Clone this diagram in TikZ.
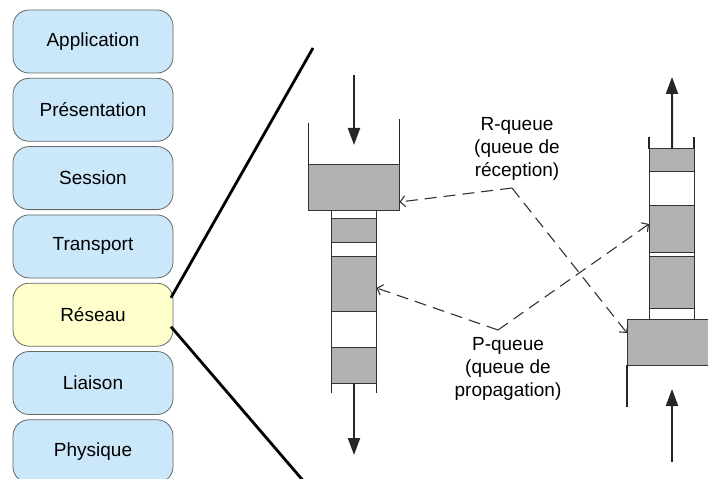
\documentclass[tikz,border=0pt]{standalone}
\usepackage{fontspec}
\setmainfont{Liberation Sans}
\usetikzlibrary{arrows.meta}
\usetikzlibrary{positioning}
\definecolor{layerblue}{RGB}{202,232,250}
\definecolor{layeryellow}{RGB}{255,255,204}
\definecolor{qgray}{RGB}{178,178,178}

\begin{document}
\begin{tikzpicture}[x=1bp,y=-1bp,node distance=5.3bp,
    font=\fontsize{19bp}{23bp}\selectfont]
 				 \tikzstyle{layer}=[draw=black!60, fill=layerblue, rounded corners=16bp, line width=0.8bp,
 				   minimum width=160bp, minimum height=63bp, inner sep=0pt, outer sep=0pt]
 				 \tikzstyle{slot}=[draw=black!80, fill=qgray, line width=1bp, minimum width=45bp,
 				   inner sep=0pt, outer sep=0pt]
 				 \tikzstyle{wall}=[draw=black!85, line width=1.6bp]
 				 \tikzstyle{flow}=[draw=black!85, line width=2bp, -{Triangle[length=17bp,width=12bp]}]
 				 \tikzstyle{hint}=[draw=black!80, line width=1.1bp, dash pattern=on 12bp off 7bp,
 				   -{Straight Barb[length=5bp,width=11bp]}]
 				 \tikzstyle{zline}=[draw=black, line width=2.8bp]
			\useasboundingbox (0,0) rectangle (708,479);
			\clip (0,0) rectangle (708,479);

			% OSI layers
			\node[layer] (app) at (93,41.5) {Application};
			\node[layer] (pres) [below=of app] {Présentation};
			\node[layer] (sess) [below=of pres] {Session};
			\node[layer] (trans) [below=of sess] {Transport};
			\node[layer, fill=layeryellow] (res) [below=of trans] {Réseau};
			\node[layer] (liai) [below=of res] {Liaison};
			\node[layer] (phys) [below=of liai] {Physique};

			% zoom lines
			\coordinate (zt) at (313,48);
			\coordinate (zb) at (306,484);
			\draw[zline] ([xshift=-2bp,yshift=17bp]res.east) -- (zt);
			\draw[zline] ([xshift=-2bp,yshift=-12bp]res.east) -- (zb);

			% reception side
			\node[slot, minimum width=91bp, minimum height=46bp] (ltop) at (354,188) {};
			\node[slot, fill=white, minimum height=8bp] (l1) [below=0pt of ltop] {};
			\node[slot, minimum height=23bp] (l2) [below=0pt of l1] {};
			\node[slot, fill=white, minimum height=14bp] (l3) [below=0pt of l2] {};
			\node[slot, minimum height=55bp] (l4) [below=0pt of l3] {};
			\node[slot, fill=white, minimum height=36bp] (l5) [below=0pt of l4] {};
			\node[slot, minimum height=36bp] (l6) [below=0pt of l5] {};
			\draw[wall] ([yshift=42bp]ltop.north west) -- (ltop.north west);
			\draw[wall] ([yshift=46bp]ltop.north east) -- (ltop.north east);
			\draw[wall] (l6.south west) -- ++(0,10);
			\draw[wall] (l6.south east) -- ++(0,10);
			\coordinate (inL) at (354,75);
			\coordinate (inLend) at (354,145);
			\coordinate (outL) at (354,455);
			\draw[flow] (inL) -- (inLend);
			\draw[flow] (l6.south) -- (outL);

			% propagation side
			\node[slot, minimum height=23bp] (r1) at (671.5,160.5) {};
			\node[slot, fill=white, minimum height=34bp] (r2) [below=0pt of r1] {};
			\node[slot, minimum height=46bp] (r3) [below=0pt of r2] {};
			\node[slot, fill=white, minimum height=4bp] (r4) [below=0pt of r3] {};
			\node[slot, minimum height=52bp] (r5) [below=0pt of r4] {};
			\node[slot, fill=white, minimum height=11bp] (r6) [below=0pt of r5] {};
			\node[slot, minimum width=91bp, minimum height=46bp, anchor=north west] (rbot)
			  at ([xshift=-22bp]r6.south west) {};
			\draw[wall] ([yshift=12bp]r1.north west) -- (r1.north west);
			\draw[wall] ([yshift=12bp]r1.north east) -- (r1.north east);
			\draw[wall] (rbot.south west) -- ++(0,42);
			\coordinate (outR) at (672,77);
			\coordinate (inR) at (672,462);
			\coordinate (inRend) at (672,389);
			\draw[flow] ([xshift=0.5bp]r1.north) -- (outR);
			\draw[flow] (inR) -- (inRend);

			% labels
			\node[align=center] (rq) at (517,149) {R-queue\\(queue de\\réception)};
			\node[align=center] (pq) at (508,369) {P-queue\\(queue de\\propagation)};
			\coordinate (rapex) at (512,188);
			\coordinate (papex) at (498,330);
			\draw[hint] (rapex) -- ([yshift=-14bp]ltop.east);
			\draw[hint] (rapex) -- ([yshift=9bp]rbot.west);
			\draw[hint] (papex) -- ([yshift=-4.5bp]l4.east);
			\draw[hint] (papex) -- ([yshift=5bp]r3.west);
 	\end{tikzpicture}
\end{document}
